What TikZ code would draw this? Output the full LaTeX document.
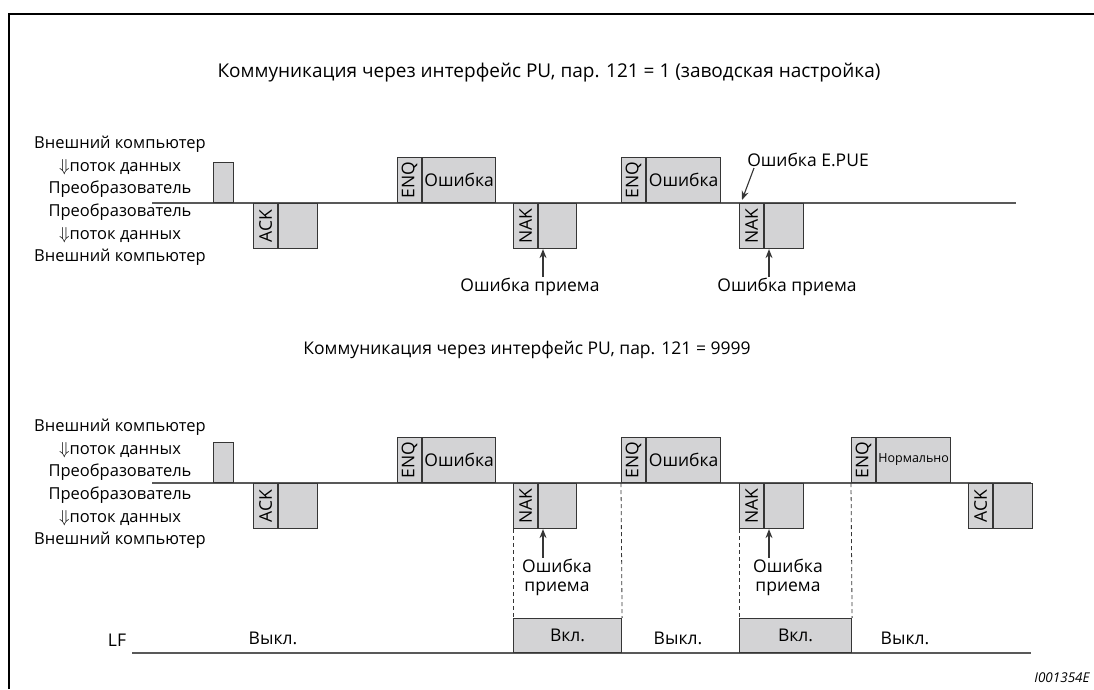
\documentclass[tikz,border=0pt]{standalone}
\usepackage{fontspec}
\setmainfont{Open Sans}
\usepackage{tikz}
\usetikzlibrary{arrows.meta,positioning}
\definecolor{CellGray}{HTML}{D3D3D5}
\definecolor{EdgeDark}{HTML}{363636}
\definecolor{LineGray}{HTML}{595959}

\begin{document}
\begin{tikzpicture}[
  x=1pt, y=-1pt,
  txt/.style={font=\fontsize{17.5}{19}\selectfont, inner sep=1pt},
  side/.style={txt, align=center, font=\fontsize{16.5}{22.6}\selectfont},
  tline/.style={draw=LineGray, line width=1.4pt},
  tagcell/.style={draw=EdgeDark, fill=CellGray, line width=1.1pt, minimum width=24pt,
               minimum height=45pt, inner sep=0pt},
  datacell/.style={tagcell, minimum width=39pt, font=\fontsize{17.5}{19}\selectfont},
  tagtxt/.style={txt, rotate=90},
  lfon/.style={draw=EdgeDark, fill=CellGray, line width=1.1pt, minimum height=34pt,
               anchor=south west, txt},
  ptr/.style={-{Stealth[length=9pt, width=7pt]}, line width=1.1pt, draw=EdgeDark},
  guide/.style={draw=EdgeDark, line width=0.8pt, dash pattern=on 4pt off 3pt}
]
\useasboundingbox (0,0) rectangle (1094,689);
\draw[line width=2pt] (9,689) -- (9,14) -- (1094,14);

% Pr.121 = 1
\node[txt, font=\fontsize{19}{21}\selectfont] (titleA) at (549,73) {Коммуникация через интерфейс PU, пар. 121 = 1 (заводская настройка)};
\node[side] (sideA) at (120,201) {Внешний компьютер\\$\Downarrow$поток данных\\Преобразователь\\Преобразователь\\$\Downarrow$поток данных\\Внешний компьютер};
\coordinate (ta) at (152,203);
\coordinate (tb) at (1016,203);
\draw[tline] (ta) -- (tb);
\node[datacell, minimum width=20pt, minimum height=40pt, anchor=south west] (tailA) at (213,203) {};
\node[tagcell, anchor=north west] (ackA) at (253,203) {};
\node[tagtxt] (ackAl) at (ackA) {ACK};
\node[datacell, right=0pt of ackA] (ackAd) {};
\node[tagcell, anchor=south west] (enqA) at (397,203) {};
\node[tagtxt] (enqAl) at (enqA) {ENQ};
\node[datacell, minimum width=73pt, right=0pt of enqA] (enqAd) {Ошибка};
\node[tagcell, anchor=north west] (nakA) at (513,203) {};
\node[tagtxt] (nakAl) at (nakA) {NAK};
\node[datacell, minimum width=38pt, right=0pt of nakA] (nakAd) {};
\node[tagcell, anchor=south west] (enqB) at (621,203) {};
\node[tagtxt] (enqBl) at (enqB) {ENQ};
\node[datacell, minimum width=74pt, right=0pt of enqB] (enqBd) {Ошибка};
\node[tagcell, anchor=north west] (nakB) at (739,203) {};
\node[tagtxt] (nakBl) at (nakB) {NAK};
\node[datacell, right=0pt of nakB] (nakBd) {};
\node[txt] (rxA) at (530,287) {Ошибка приема};
\node[txt] (rxB) at (787,287) {Ошибка приема};
\node[txt] (epue) at (808,160) {Ошибка E.PUE};
\draw[ptr] ([xshift=13pt]rxA.north) -- ([xshift=13pt]rxA.north |- nakAd.south);
\draw[ptr] ([xshift=-18pt]rxB.north) -- ([xshift=-18pt]rxB.north |- nakBd.south);
\draw[ptr] ([xshift=-54pt]epue.south) -- ([xshift=3pt,yshift=3pt]nakB.north west);

% Pr.121 = 9999
\node[txt] (titleB) at (527,350) {Коммуникация через интерфейс PU, пар. 121 = 9999};
\node[side] (sideB) at (120,484) {Внешний компьютер\\$\Downarrow$поток данных\\Преобразователь\\Преобразователь\\$\Downarrow$поток данных\\Внешний компьютер};
\coordinate (tc) at (152,483);
\coordinate (td) at (1031,483);
\draw[tline] (tc) -- (td);
\node[datacell, minimum width=20pt, minimum height=40pt, anchor=south west] (tailB) at (213,483) {};
\node[tagcell, anchor=north west] (ackC) at (253,483) {};
\node[tagtxt] (ackCl) at (ackC) {ACK};
\node[datacell, right=0pt of ackC] (ackCd) {};
\node[tagcell, anchor=south west] (enqC) at (397,483) {};
\node[tagtxt] (enqCl) at (enqC) {ENQ};
\node[datacell, minimum width=73pt, right=0pt of enqC] (enqCd) {Ошибка};
\node[tagcell, anchor=north west] (nakC) at (513,483) {};
\node[tagtxt] (nakCl) at (nakC) {NAK};
\node[datacell, minimum width=38pt, right=0pt of nakC] (nakCd) {};
\node[tagcell, anchor=south west] (enqD) at (621,483) {};
\node[tagtxt] (enqDl) at (enqD) {ENQ};
\node[datacell, minimum width=74pt, right=0pt of enqD] (enqDd) {Ошибка};
\node[tagcell, anchor=north west] (nakD) at (739,483) {};
\node[tagtxt] (nakDl) at (nakD) {NAK};
\node[datacell, right=0pt of nakD] (nakDd) {};
\node[tagcell, anchor=south west] (enqE) at (851,483) {};
\node[tagtxt] (enqEl) at (enqE) {ENQ};
\node[datacell, minimum width=74pt, right=0pt of enqE, font=\fontsize{12.5}{14}\selectfont] (enqEd) {Нормально};
\node[tagcell, anchor=north west] (ackE) at (968,483) {};
\node[tagtxt] (ackEl) at (ackE) {ACK};
\node[datacell, right=0pt of ackE] (ackEd) {};
\node[txt, align=center] (rxC) at (557,577) {Ошибка\\приема};
\node[txt, align=center] (rxD) at (788,577) {Ошибка\\приема};
\draw[ptr] ([xshift=-14pt]rxC.north) -- ([xshift=-14pt]rxC.north |- nakCd.south);
\draw[ptr] ([xshift=-19pt]rxD.north) -- ([xshift=-19pt]rxD.north |- nakDd.south);

% LF
\node[txt] (lf) at (117,640) {LF};
\coordinate (la) at (132,653);
\coordinate (lb) at (1031,653);
\draw[tline] (la) -- (lb);
\node[lfon, minimum width=108pt] (onA) at (513,653) {Вкл.};
\node[lfon, minimum width=112pt] (onB) at (739,653) {Вкл.};
\node[txt] (offA) at (273,638) {Выкл.};
\node[txt] (offB) at (678,638) {Выкл.};
\node[txt] (offC) at (905,638) {Выкл.};
\draw[guide] (nakC.south west) -- (onA.north west);
\draw[guide] (enqD.south west) -- (onA.north east);
\draw[guide] (nakD.south west) -- (onB.north west);
\draw[guide] (enqE.south west) -- (onB.north east);

\node[txt, font=\fontsize{13.5}{15}\itshape] (fig) at (1062,678) {I001354E};
\end{tikzpicture}
\end{document}
